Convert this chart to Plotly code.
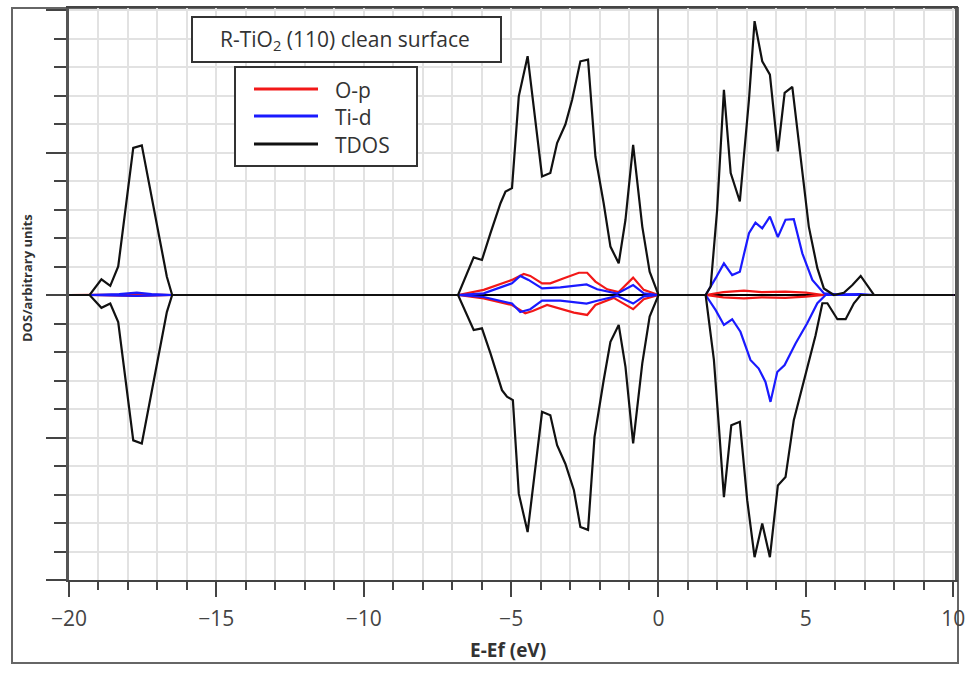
import plotly.graph_objects as go

# ---------------- data ----------------
tdos_up_e = [-20, -19.3, -18.9, -18.6, -18.33, -17.82, -17.53, -16.68, -16.5,
             -6.8, -6.27, -5.99, -5.7, -5.36, -5.19, -4.97, -4.74, -4.44, -3.95, -3.67,
             -3.44, -3.16, -2.93, -2.65, -2.39, -2.14, -1.86, -1.63, -1.35, -1.12,
             -0.86, -0.55, -0.3, 0.0,
             1.6, 1.77, 1.99, 2.22, 2.45, 2.76, 3.07, 3.26, 3.52, 3.78, 4.05, 4.28,
             4.54, 4.82, 5.1, 5.39, 5.61, 5.95, 6.29, 6.58, 6.86, 7.31, 10]
tdos_up = [0, 0, 0.55, 0.32, 1.0, 5.16, 5.25, 0.64, 0,
           0, 1.32, 1.23, 2.17, 3.22, 3.63, 3.75, 6.97, 8.38, 4.16, 4.28,
           5.33, 5.98, 6.85, 8.2, 8.26, 4.86, 3.22, 1.7, 1.11, 2.64,
           5.27, 2.4, 0.82, 0,
           0, 0.3, 2.99, 7.2, 4.28, 3.28, 6.85, 9.61, 8.2, 7.73, 5.04, 7.09,
           7.3, 4.8, 2.4, 0.94, 0.23, 0, 0.08, 0.35, 0.67, 0, 0]

tdos_dn_e = [-20, -19.3, -18.9, -18.6, -18.33, -17.82, -17.53, -16.68, -16.5,
             -6.8, -6.27, -5.99, -5.7, -5.31, -5.14, -4.94, -4.74, -4.44, -3.95, -3.67,
             -3.44, -3.16, -2.87, -2.65, -2.39, -2.17, -1.86, -1.63, -1.35, -1.12,
             -0.86, -0.55, -0.3, 0.0,
             1.6, 1.88, 2.05, 2.22, 2.47, 2.76, 3.01, 3.26, 3.52, 3.78, 4.05, 4.31,
             4.59, 4.99, 5.33, 5.56, 5.73, 6.07, 6.35, 6.63, 6.86, 10]
tdos_dn = [0, 0, -0.45, -0.3, -0.95, -5.1, -5.21, -0.6, 0,
           0, -1.23, -1.17, -2.05, -3.34, -3.57, -3.69, -6.97, -8.32, -4.1, -4.22,
           -5.27, -5.92, -6.85, -8.14, -8.24, -4.98, -2.99, -1.64, -1.05, -2.52,
           -5.21, -2.4, -0.76, 0,
           0, -2.28, -4.63, -7.09, -4.57, -4.45, -7.2, -9.2, -8.02, -9.2, -6.68, -6.39,
           -4.39, -2.75, -1.41, -0.29, -0.29, -0.85, -0.85, -0.29, 0, 0]

op_up_e = [-20, -19.3, -18.3, -17.7, -17.2, -16.5,
           -6.8, -5.93, -4.97, -4.57, -4.35, -3.95, -3.67, -3.21, -2.7, -2.42,
           -2.14, -1.74, -1.35, -0.86, -0.5, 0,
           1.6, 2.2, 2.9, 3.5, 4.3, 5.0, 5.6, 10]
op_up = [0, 0, 0.01, 0.04, 0.01, 0,
         0, 0.18, 0.53, 0.74, 0.67, 0.41, 0.41, 0.59, 0.78, 0.78,
         0.47, 0.2, 0.1, 0.61, 0.18, 0,
         0, 0.1, 0.15, 0.1, 0.12, 0.08, 0, 0]

op_dn_e = [-20, -19.3, -17.7, -16.5,
           -6.8, -5.93, -4.97, -4.52, -4.27, -3.78, -2.87, -2.42, -2.14, -1.52,
           -0.86, -0.5, 0,
           1.6, 2.2, 2.9, 3.5, 4.3, 5.0, 5.6, 10]
op_dn = [0, 0, -0.03, 0,
         0, -0.12, -0.35, -0.64, -0.56, -0.35, -0.62, -0.70, -0.35, -0.1,
         -0.5, -0.15, 0,
         0, -0.08, -0.12, -0.08, -0.1, -0.06, 0, 0]

tid_up_e = [-20, -19.3, -18.3, -17.7, -17.2, -16.5,
            -6.8, -5.93, -4.97, -4.69, -4.41, -3.95, -3.33, -2.44, -2.08, -1.4,
            -0.86, -0.5, 0,
            1.6, 1.94, 2.22, 2.5, 2.76, 3.07, 3.29, 3.52, 3.78, 4.05, 4.31, 4.59,
            4.88, 5.22, 5.61, 6.07, 6.86, 7.3, 10]
tid_up = [0, 0, 0.03, 0.08, 0.03, 0,
          0, 0.06, 0.41, 0.67, 0.53, 0.23, 0.27, 0.37, 0.2, 0.05,
          0.35, 0.06, 0,
          0, 0.59, 1.11, 0.7, 0.82, 2.17, 2.54, 2.34, 2.75, 2.03, 2.64, 2.66,
          1.46, 0.53, 0.06, 0.02, 0.03, 0, 0]

tid_dn_e = [-20, -19.3, -17.7, -16.5,
            -6.8, -5.93, -4.97, -4.69, -4.35, -3.95, -3.33, -2.44, -2.08, -1.4,
            -0.86, -0.5, 0,
            1.6, 1.94, 2.22, 2.5, 2.78, 3.12, 3.4, 3.63, 3.8, 4.03, 4.28, 4.65,
            5.04, 5.39, 5.67, 10]
tid_dn = [0, 0, -0.03, 0,
          0, -0.07, -0.3, -0.6, -0.5, -0.2, -0.2, -0.3, -0.2, -0.03,
          -0.3, -0.05, 0,
          0, -0.53, -1.05, -0.85, -1.29, -2.28, -2.58, -3.05, -3.75, -2.7, -2.46, -1.7,
          -1.0, -0.29, 0, 0]

series_names = ["O-p", "Ti-d", "TDOS"]
series_colors = ["#f21818", "#1a1aff", "#111111"]
title_text = "R-TiO<sub>2</sub> (110) clean surface"
x_title = "E-Ef (eV)"
y_title = "DOS/arbitrary units"
x_tick_vals = [-20, -15, -10, -5, 0, 5, 10]

# ---------------- layout geometry ----------------
W, H = 965, 675
ML, MR, MT, MB = 69, 10, 8, 95
PW, PH = W - ML - MR, H - MT - MB


def px(xp):
    return (xp - ML) / PW


def py(yp):
    return (H - MB - yp) / PH


FONT = "Open Sans, Noto Sans, DejaVu Sans, sans-serif"

fig = go.Figure()

lw = 2.2
fig.add_trace(go.Scatter(x=op_up_e, y=op_up, mode="lines", name="O-p",
                         line=dict(color=series_colors[0], width=lw), showlegend=False))
fig.add_trace(go.Scatter(x=op_dn_e, y=op_dn, mode="lines", name="O-p",
                         line=dict(color=series_colors[0], width=lw), showlegend=False))
fig.add_trace(go.Scatter(x=tid_up_e, y=tid_up, mode="lines", name="Ti-d",
                         line=dict(color=series_colors[1], width=lw), showlegend=False))
fig.add_trace(go.Scatter(x=tid_dn_e, y=tid_dn, mode="lines", name="Ti-d",
                         line=dict(color=series_colors[1], width=lw), showlegend=False))
fig.add_trace(go.Scatter(x=tdos_up_e, y=tdos_up, mode="lines", name="TDOS",
                         line=dict(color=series_colors[2], width=lw), showlegend=False))
fig.add_trace(go.Scatter(x=tdos_dn_e, y=tdos_dn, mode="lines", name="TDOS",
                         line=dict(color=series_colors[2], width=lw), showlegend=False))

shapes = []
annotations = []

# outer frame
shapes.append(dict(type="rect", xref="paper", yref="paper",
                   x0=px(12), x1=px(958), y0=py(663), y1=py(8),
                   line=dict(color="#666666", width=2), layer="below"))
# title box
shapes.append(dict(type="rect", xref="paper", yref="paper",
                   x0=px(192), x1=px(501), y0=py(62), y1=py(17),
                   line=dict(color="#333333", width=2), fillcolor="white", layer="above"))
annotations.append(dict(xref="paper", yref="paper", x=px(345), y=py(40),
                        text=title_text, showarrow=False,
                        font=dict(family=FONT, size=21, color="#333333"),
                        xanchor="center", yanchor="middle"))
# legend box
shapes.append(dict(type="rect", xref="paper", yref="paper",
                   x0=px(235), x1=px(417), y0=py(166), y1=py(67),
                   line=dict(color="#333333", width=2), fillcolor="white", layer="above"))
leg_y = [89, 116, 144]
for name, col, yy in zip(series_names, series_colors, leg_y):
    shapes.append(dict(type="line", xref="paper", yref="paper",
                       x0=px(254), x1=px(318), y0=py(yy), y1=py(yy),
                       line=dict(color=col, width=3), layer="above"))
    annotations.append(dict(xref="paper", yref="paper", x=px(333), y=py(yy + 1),
                            text=name, showarrow=False,
                            font=dict(family=FONT, size=21, color="#333333"),
                            xanchor="left", yanchor="middle"))

# axis titles
annotations.append(dict(xref="paper", yref="paper", x=px(508), y=py(650),
                        text="<b>%s</b>" % x_title, showarrow=False,
                        font=dict(family=FONT, size=19, color="#333333"),
                        xanchor="center", yanchor="middle"))
annotations.append(dict(xref="paper", yref="paper", x=px(27), y=py(278),
                        text="<b>%s</b>" % y_title, showarrow=False, textangle=-90,
                        font=dict(family=FONT, size=13, color="#333333"),
                        xanchor="center", yanchor="middle"))

fig.update_layout(
    width=W, height=H,
    margin=dict(l=ML, r=MR, t=MT, b=MB, pad=0, autoexpand=False),
    paper_bgcolor="white", plot_bgcolor="white",
    showlegend=False,
    shapes=shapes, annotations=annotations,
    font=dict(family=FONT, size=20, color="#444444"),
)

fig.update_xaxes(
    range=[-20, 10.06], tickvals=x_tick_vals, automargin=False,
    ticklabeloverflow="allow",
    ticks="outside", ticklen=15, tickwidth=2, tickcolor="#444444",
    ticklabelstandoff=4,
    tickfont=dict(family=FONT, size=21, color="#444444"),
    showline=True, linecolor="#444444", linewidth=2, mirror=True,
    showgrid=True, gridcolor="#e2e2e2", gridwidth=2,
    zeroline=True, zerolinecolor="#555555", zerolinewidth=2,
    minor=dict(dtick=1, ticks="outside", ticklen=8, tickwidth=2, tickcolor="#444444",
               showgrid=True, gridcolor="#e2e2e2", gridwidth=2),
)
fig.update_yaxes(
    range=[-10, 10.07], dtick=5, tick0=0, showticklabels=False, automargin=False,
    ticks="outside", ticklen=20, tickwidth=2, tickcolor="#444444",
    showline=True, linecolor="#555555", linewidth=3, mirror=True,
    showgrid=True, gridcolor="#e2e2e2", gridwidth=2,
    zeroline=True, zerolinecolor="#000000", zerolinewidth=1.5,
    minor=dict(dtick=1, ticks="outside", ticklen=12, tickwidth=2, tickcolor="#444444",
               showgrid=True, gridcolor="#e2e2e2", gridwidth=2),
)

fig.write_html("out.html", config={"displayModeBar": False},
               post_script="document.body.style.margin='0px';")
